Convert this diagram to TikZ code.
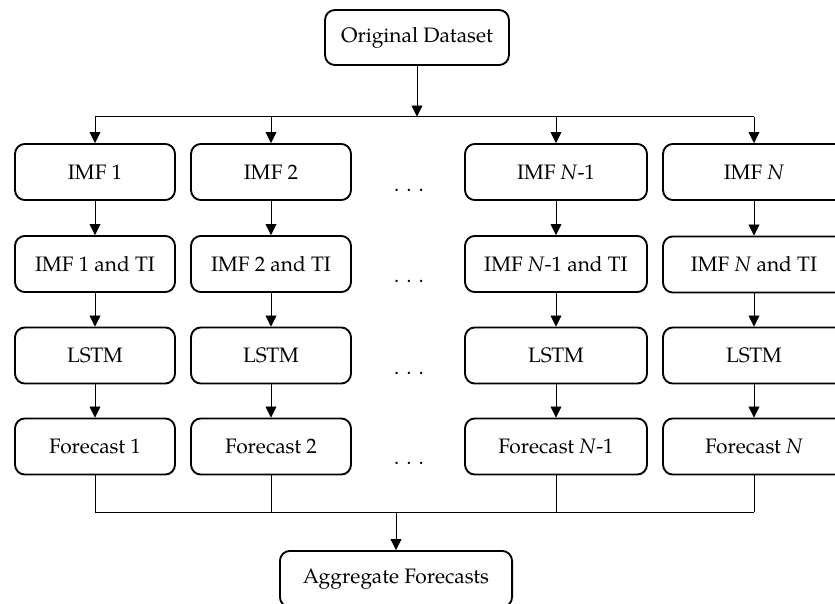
\documentclass[tikz,border=0pt]{standalone}
\usepackage{fontspec}
\setmainfont{TeX Gyre Pagella}
\usetikzlibrary{arrows.meta}

\begin{document}
\begin{tikzpicture}[x=0.4545pt, y=-0.4545pt,
    every node/.style={rectangle, rounded corners=4.5pt, draw, line width=0.85pt, minimum height=25.5pt, inner sep=2pt, font=\fontsize{9.5pt}{11pt}\selectfont},
    narrow/.style={minimum width=72.7pt},
    wide/.style={minimum width=82.7pt},
    gap/.style={draw=none, minimum size=0pt, inner sep=0pt},
    link/.style={line width=0.4pt},
    arr/.style={link, -{Triangle[length=5pt, width=5pt]}}]
        \useasboundingbox (0, 0) rectangle (835, 603);
        \clip (0, 0) rectangle (835, 603);

        % source and sink
        \node[minimum width=83.6pt, minimum height=25pt] (orig) at (417, 37.5) {Original Dataset};
        \node[minimum width=105.5pt] (agg) at (396, 579) {Aggregate Forecasts};

        % decomposition
        \node[narrow] (imf1) at (95, 172) {IMF 1};
        \node[narrow] (imf2) at (271, 172) {IMF 2};
        \node[wide] (imfM) at (556, 172) {IMF \textit{N}-1};
        \node[wide] (imfN) at (754, 172) {IMF \textit{N}};

        % inputs with technical indicators
        \node[narrow] (ti1) at (95, 264) {IMF 1 and TI};
        \node[narrow] (ti2) at (271, 264) {IMF 2 and TI};
        \node[wide] (tiM) at (556, 264) {IMF \textit{N}-1 and TI};
        \node[wide] (tiN) at (754, 264.5) {IMF \textit{N} and TI};

        % models
        \node[narrow] (lstm1) at (95, 355.5) {LSTM};
        \node[narrow] (lstm2) at (271, 355.5) {LSTM};
        \node[wide] (lstmM) at (556, 355.5) {LSTM};
        \node[wide] (lstmN) at (754, 355.5) {LSTM};

        % forecasts
        \node[narrow] (fc1) at (95, 446.5) {Forecast 1};
        \node[narrow] (fc2) at (271, 446.5) {Forecast 2};
        \node[wide] (fcM) at (556, 446.5) {Forecast \textit{N}-1};
        \node[wide] (fcN) at (754, 446.5) {Forecast \textit{N}};

        % dots between the columns
        \node[gap] (dots1) at (409, 190) {.\hspace{3.2pt}.\hspace{3.2pt}.};
        \node[gap] (dots2) at (409, 281) {.\hspace{3.2pt}.\hspace{3.2pt}.};
        \node[gap] (dots3) at (409, 373) {.\hspace{3.2pt}.\hspace{3.2pt}.};
        \node[gap] (dots4) at (409, 463) {.\hspace{3.2pt}.\hspace{3.2pt}.};

        % split
        \coordinate (split) at (417, 116.5);
        \draw[arr] (orig) -- (split);
        \draw[link] (split -| imf1) -- (split -| imfN);
        \draw[arr] (split -| imf1) -- (imf1); \draw[arr] (split -| imf2) -- (imf2);
        \draw[arr] (split -| imfM) -- (imfM); \draw[arr] (split -| imfN) -- (imfN);

        % columns
        \draw[arr] (imf1) -- (ti1); \draw[arr] (imf2) -- (ti2); \draw[arr] (imfM) -- (tiM); \draw[arr] (imfN) -- (tiN);
        \draw[arr] (ti1) -- (lstm1); \draw[arr] (ti2) -- (lstm2); \draw[arr] (tiM) -- (lstmM); \draw[arr] (tiN) -- (lstmN);
        \draw[arr] (lstm1) -- (fc1); \draw[arr] (lstm2) -- (fc2); \draw[arr] (lstmM) -- (fcM); \draw[arr] (lstmN) -- (fcN);

        % merge
        \coordinate (merge) at (396, 512);
        \draw[link] (fc1) -- (fc1 |- merge); \draw[link] (fc2) -- (fc2 |- merge);
        \draw[link] (fcM) -- (fcM |- merge); \draw[link] (fcN) -- (fcN |- merge);
        \draw[link] (merge -| fc1) -- (merge -| fcN);
        \draw[arr] (merge) -- (agg);
    \end{tikzpicture}
\end{document}
